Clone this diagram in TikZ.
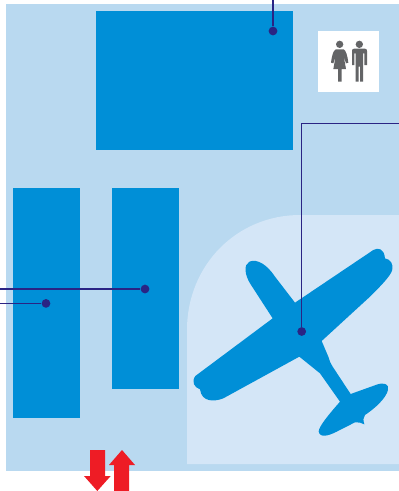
\documentclass[tikz,border=0pt]{standalone}
\usepackage{xcolor}
\usepackage{tikz}
\usetikzlibrary{arrows.meta,positioning}
\definecolor{floorblue}{HTML}{B9D9F0}
\definecolor{panelblue}{HTML}{D4E6F7}
\definecolor{roomblue}{HTML}{008FD7}
\definecolor{wirenavy}{HTML}{2A2484}
\definecolor{signgrey}{HTML}{636466}
\definecolor{liftred}{HTML}{EE1C25}
\begin{document}
\begin{tikzpicture}[
    x=0.02cm, y=-0.02cm,
    room/.style={fill=roomblue, draw=none, inner sep=0pt, outer sep=0pt},
    dot/.style={circle, fill=wirenavy, draw=none, inner sep=0pt, minimum size=0.175cm},
    wire/.style={draw=wirenavy, line width=0.7pt},
    sign/.style={fill=signgrey, draw=none},
    lift/.style={fill=liftred, draw=none}
]
\useasboundingbox (0,0) rectangle (399,491);

% floor and gallery
\fill[floorblue] (6,4) rectangle (399,471);
\fill[panelblue] (187,464) -- (187,330) .. controls (187,265) and (237,215) .. (300,215) -- (399,215) -- (399,464) -- cycle;

% rooms
\node[room, minimum width=3.94cm, minimum height=2.78cm] (hall) at (194.5,80.5) {};
\node[room, minimum width=1.34cm, minimum height=4.6cm] (westroom) at (46.5,303) {};
\node[room, minimum width=1.34cm, minimum height=4.02cm] (midroom) at (145.5,288.5) {};

% toilets
\node[fill=white, inner sep=0pt, minimum size=1.22cm] (toilets) at (348.5,61.5) {};
\begin{scope}[shift={(300,20)}, xscale=1/3, yscale=1/3]
\fill[sign] (119,73) circle (11);
\fill[sign] (107,88) -- (131,88) .. controls (138,92) and (142,105) .. (145,128) -- (138,130) -- (131,108) -- (138,147) -- (125,147) -- (125,185) -- (114,185) -- (114,147) -- (100,147) -- (107,108) -- (100,130) -- (93,128) .. controls (96,105) and (100,92) .. (107,88) -- cycle;
\fill[sign] (178,73) circle (11);
\fill[sign] (162,86) -- (195,86) .. controls (199,86) and (201,89) .. (201,93) -- (201,135) -- (193,135) -- (193,100) -- (189,100) -- (189,185) -- (180,185) -- (180,140) -- (176,140) -- (176,185) -- (167,185) -- (167,100) -- (163,100) -- (163,135) -- (156,135) -- (156,93) .. controls (156,89) and (158,86) .. (162,86) -- cycle;
\end{scope}

% plane
\begin{scope}[shift={(180,230)}, xscale=1/3, yscale=1/3]
\fill[roomblue] (345,218) -- (580,60)
  .. controls (595,52) and (612,55) .. (615,85)
  .. controls (630,88) and (642,100) .. (636,122)
  .. controls (630,140) and (600,170) .. (570,200)
  -- (425,333) -- (445,380) .. controls (450,395) and (452,402) .. (458,410)
  -- (512,492) -- (590,464) .. controls (612,456) and (628,462) .. (624,480)
  .. controls (618,505) and (585,535) .. (555,555)
  .. controls (548,562) and (550,572) .. (553,583)
  .. controls (545,578) and (535,576) .. (525,577)
  -- (470,605) .. controls (445,618) and (420,624) .. (416,605)
  .. controls (416,590) and (445,555) .. (480,515)
  -- (420,430) -- (358,380) -- (130,505)
  .. controls (105,515) and (65,518) .. (60,478)
  .. controls (42,472) and (34,455) .. (46,438)
  -- (278,265) -- (210,160)
  .. controls (195,135) and (190,105) .. (208,95)
  .. controls (232,85) and (262,105) .. (285,140) -- cycle;
\end{scope}

% stops
\node[dot] (hallstop) at (273,31) {};
\node[dot] (planestop) at (301.7,331.5) {};
\node[dot] (midstop) at (145,289) {};
\node[dot] (weststop) at (46,303.4) {};

\coordinate (hallend) at (273,0);
\coordinate (planeend) at (399,123.3);
\coordinate (midend) at (0,289);
\coordinate (westend) at (0,303.4);

\draw[wire] (hallend) -- (hallstop);
\draw[wire] (planeend) -| (planestop);
\draw[wire] (midend) -- (midstop);
\draw[wire] (westend) -- (weststop);

% lift arrows
\fill[lift] (90,450) -- (105,450) -- (105,476) -- (110.7,476) -- (97.3,491) -- (84,476) -- (90,476) -- cycle;
\fill[lift] (114,491) -- (129,491) -- (129,465) -- (135,465) -- (122,450) -- (109,465) -- (114,465) -- cycle;

\end{tikzpicture}
\end{document}
